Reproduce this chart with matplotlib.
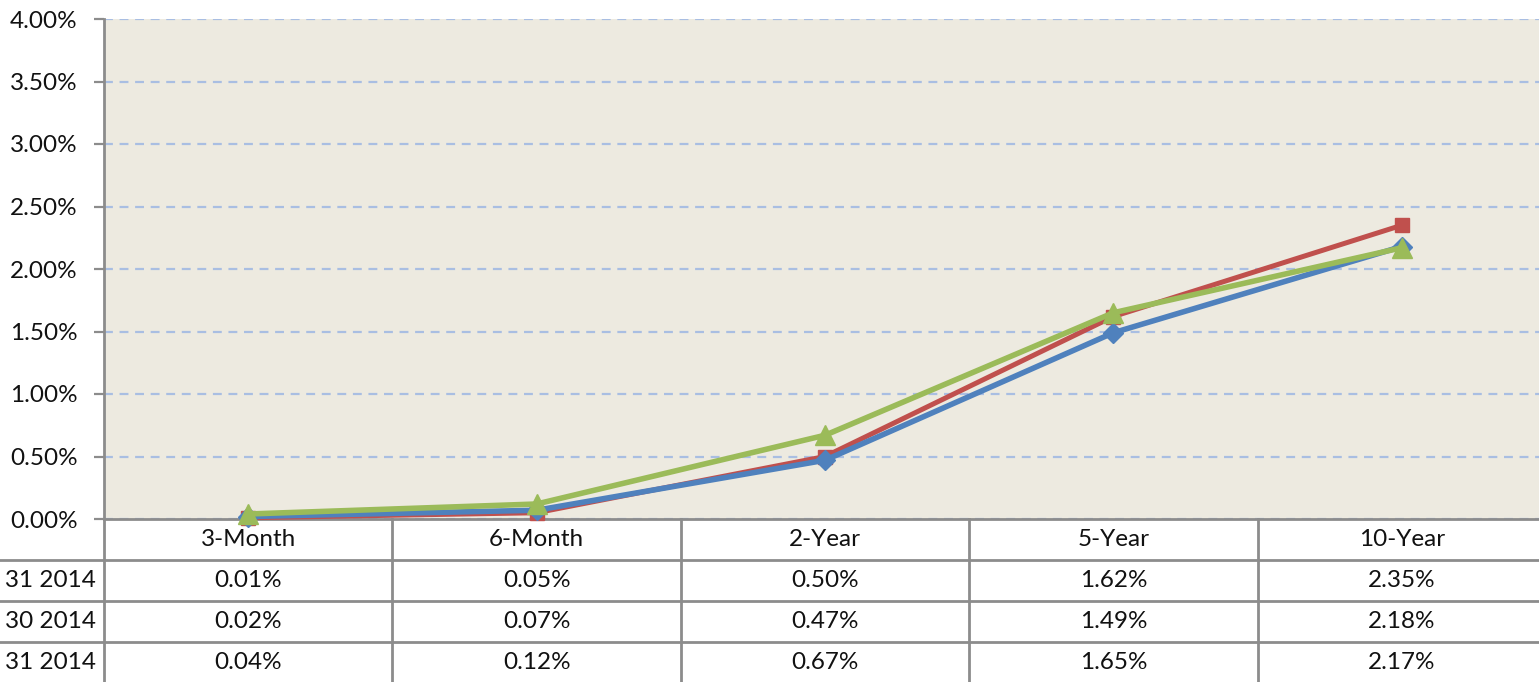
import matplotlib
matplotlib.use("Agg")
import matplotlib.pyplot as plt
import matplotlib.ticker as mticker

categories = ["3-Month", "6-Month", "2-Year", "5-Year", "10-Year"]
series_names = ["Oct 31 2014", "Nov 30 2014", "Dec 31 2014"]
oct_vals = [0.01, 0.05, 0.50, 1.62, 2.35]
nov_vals = [0.02, 0.07, 0.47, 1.49, 2.18]
dec_vals = [0.04, 0.12, 0.67, 1.65, 2.17]
y_ticks = [0.0, 0.5, 1.0, 1.5, 2.0, 2.5, 3.0, 3.5, 4.0]

plt.rcParams['font.family'] = ['Lato', 'DejaVu Sans']

W, H = 1539, 682
fig = plt.figure(figsize=(W / 100, H / 100), dpi=100)
fig.patch.set_facecolor("white")

left_px = 104
col_w = 288.4
ax_w = col_w * len(categories)
top_px, zero_px = 19, 519
FS = 17.5

ax = fig.add_axes([left_px / W, 1 - zero_px / H, ax_w / W, (zero_px - top_px) / H])
ax.set_facecolor("#EDEAE0")
ax.set_xlim(0, len(categories))
ax.set_ylim(0, 4.0)

xs = [i + 0.5 for i in range(len(categories))]
ax.plot(xs, oct_vals, color="#C0504D", lw=3.6, marker="s", ms=10.5, zorder=3, clip_on=False)
ax.plot(xs, nov_vals, color="#4F81BD", lw=4.0, marker="D", ms=10.5, zorder=4, clip_on=False)
ax.plot(xs, dec_vals, color="#9BBB59", lw=4.0, marker="^", ms=14, zorder=5, clip_on=False)

ax.set_yticks(y_ticks)
ax.yaxis.set_major_formatter(mticker.FuncFormatter(lambda v, p: f"{v:.2f}%"))
ax.grid(axis="y", color="#A9BEE2", lw=1.6, ls=(0, (4, 3)))
ax.set_axisbelow(True)
ax.set_xticks([])
for s in ["top", "right"]:
    ax.spines[s].set_visible(False)
for s in ["left", "bottom"]:
    ax.spines[s].set_color("#8C8C8C")
    ax.spines[s].set_linewidth(2)
ax.tick_params(axis="y", length=7, width=1.6, color="#8C8C8C", labelsize=FS,
               labelcolor="#111111", pad=12)

# table below
row_h = 41
n_rows = 4
tax = fig.add_axes([left_px / W, 1 - (zero_px + row_h * n_rows) / H, ax_w / W, row_h * n_rows / H])
tax.set_xlim(0, len(categories))
tax.set_ylim(n_rows, 0)
tax.axis("off")
x_left = -left_px / col_w
line_kw = dict(color="#8C8C8C", lw=2, clip_on=False)
for r in range(1, n_rows):
    tax.plot([x_left, len(categories)], [r, r], **line_kw)
for c in range(0, len(categories)):
    tax.plot([c, c], [0, n_rows], **line_kw)
txt_kw = dict(fontsize=FS, color="#111111", va="center", clip_on=False)
for i, cat in enumerate(categories):
    tax.text(i + 0.5, 0.5, cat, ha="center", **txt_kw)
rows = [oct_vals, nov_vals, dec_vals]
for r, (name, vals) in enumerate(zip(series_names, rows)):
    tax.text(-8 / col_w, r + 1.5, name, ha="right", **txt_kw)
    for i, v in enumerate(vals):
        tax.text(i + 0.5, r + 1.5, f"{v:.2f}%", ha="center", **txt_kw)

fig.savefig("out.png", dpi=100)
